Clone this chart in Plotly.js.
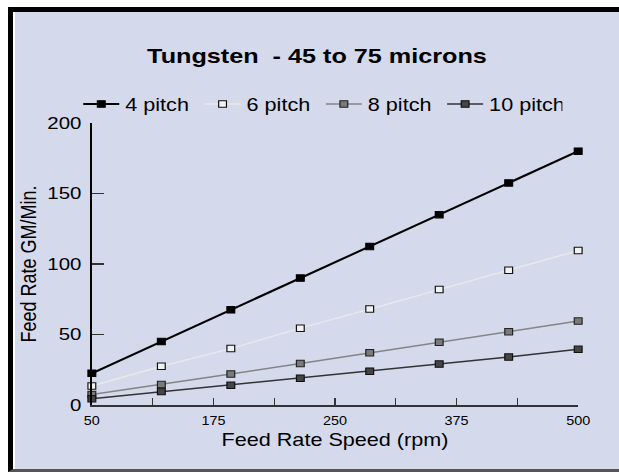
<!DOCTYPE html>
<html>
<head>
<meta charset="utf-8">
<script src="https://cdn.plot.ly/plotly-3.0.1.min.js"></script>
<style>
  html, body { margin: 0; padding: 0; background: #ffffff; overflow: hidden; }
  #frame {
    position: absolute; left: 8px; top: 7px; width: 611px; height: 465px;
    box-sizing: border-box; background: #ffffff; overflow: hidden;
    border-left: 5px solid #000000; border-top: 5px solid #000000; border-bottom: 3px solid #555555;
  }
  /* the original chart image is stretched horizontally by ~1.2 */
  #chart { position: absolute; left: 2px; top: 0px; width: 503px; height: 457px;
           transform: scaleX(1.2008); transform-origin: 0 0; }
</style>
</head>
<body>
<div id="frame"><div id="chart"></div></div>
<script>
// ---- data ----
const speedRpm = [50, 114.3, 178.6, 242.9, 307.1, 371.4, 435.7, 500];
const pitch4  = [22.5, 45, 67.5, 90, 112.5, 135, 157.5, 180];
const pitch6  = [13.5, 27.5, 40, 54.5, 68, 82, 95.5, 109.5];
const pitch8  = [7.5, 14.5, 22, 29.5, 37, 44.5, 52, 59.5];
const pitch10 = [4.5, 9.5, 14, 19, 24, 29, 34, 39.5];
const seriesNames = ['4 pitch', '6 pitch', '8 pitch', '10 pitch'];
const xTickVals = [50, 106.25, 162.5, 218.75, 275, 331.25, 387.5, 443.75, 500];
const xTickText = ['50', '', '175', '', '250', '', '375', '', '500'];
const yTickVals = [0, 50, 100, 150, 200];

const font = 'Liberation Sans, Arial, sans-serif';

function tr(y, name, lineColor, lineW, mColor, mLine) {
  return {
    x: speedRpm, y: y, name: name, type: 'scatter', mode: 'lines+markers',
    line: { color: lineColor, width: lineW },
    marker: { symbol: 'square', size: 6.5, color: mColor, line: { color: mLine, width: 1 } },
    cliponaxis: false
  };
}

const data = [
  tr(pitch4, seriesNames[0], '#000000', 2, '#000000', '#000000'),
  tr(pitch6, seriesNames[1], '#e9e9e9', 1.5, '#f2f2f2', '#111111'),
  tr(pitch8, seriesNames[2], '#858585', 1.5, '#7a7a7a', '#222222'),
  tr(pitch10, seriesNames[3], '#333333', 1.5, '#454545', '#111111')
];

const layout = {
  width: 503, height: 457,
  paper_bgcolor: '#d5d9ec', plot_bgcolor: '#d5d9ec',
  margin: { l: 64, r: 34, t: 111, b: 64 },
  font: { family: font, color: '#000000' },
  title: {
    text: '<b>Tungsten  - 45 to 75 microns</b>',
    font: { family: font, size: 21, color: '#000000' },
    x: 0.5, xref: 'container', xanchor: 'center',
    y: 0.905, yref: 'container', yanchor: 'middle'
  },
  showlegend: true,
  legend: {
    orientation: 'h', x: -0.030, xanchor: 'left', y: 1.066, yanchor: 'middle',
    bgcolor: 'rgba(0,0,0,0)', borderwidth: 0,
    font: { family: font, size: 18, color: '#000000' },
    entrywidth: 56, entrywidthmode: 'pixels', traceorder: 'normal'
  },
  xaxis: {
    range: [50, 500], showgrid: false, zeroline: false,
    showline: true, linecolor: '#333333', linewidth: 1.5,
    ticks: 'inside', ticklen: 7, tickcolor: '#333333', tickwidth: 1,
    tickvals: xTickVals, ticktext: xTickText,
    tickfont: { family: font, size: 12, color: '#000000' },
    ticklabelstandoff: 4,
    title: { text: 'Feed Rate Speed (rpm)', font: { family: font, size: 18, color: '#000000' }, standoff: 6 }
  },
  yaxis: {
    range: [0, 200], showgrid: false, zeroline: false,
    showline: true, linecolor: '#000000', linewidth: 1.3,
    ticks: 'inside', ticklen: 10, tickcolor: '#333333', tickwidth: 1.2,
    tickvals: yTickVals,
    tickfont: { family: font, size: 17, color: '#000000' },
    ticklabelstandoff: 4,
    title: { text: 'Feed Rate GM/Min.', font: { family: font, size: 18, color: '#000000' }, standoff: 4 }
  }
};

Plotly.newPlot('chart', data, layout, { staticPlot: true, displayModeBar: false });
</script>
</body>
</html>
